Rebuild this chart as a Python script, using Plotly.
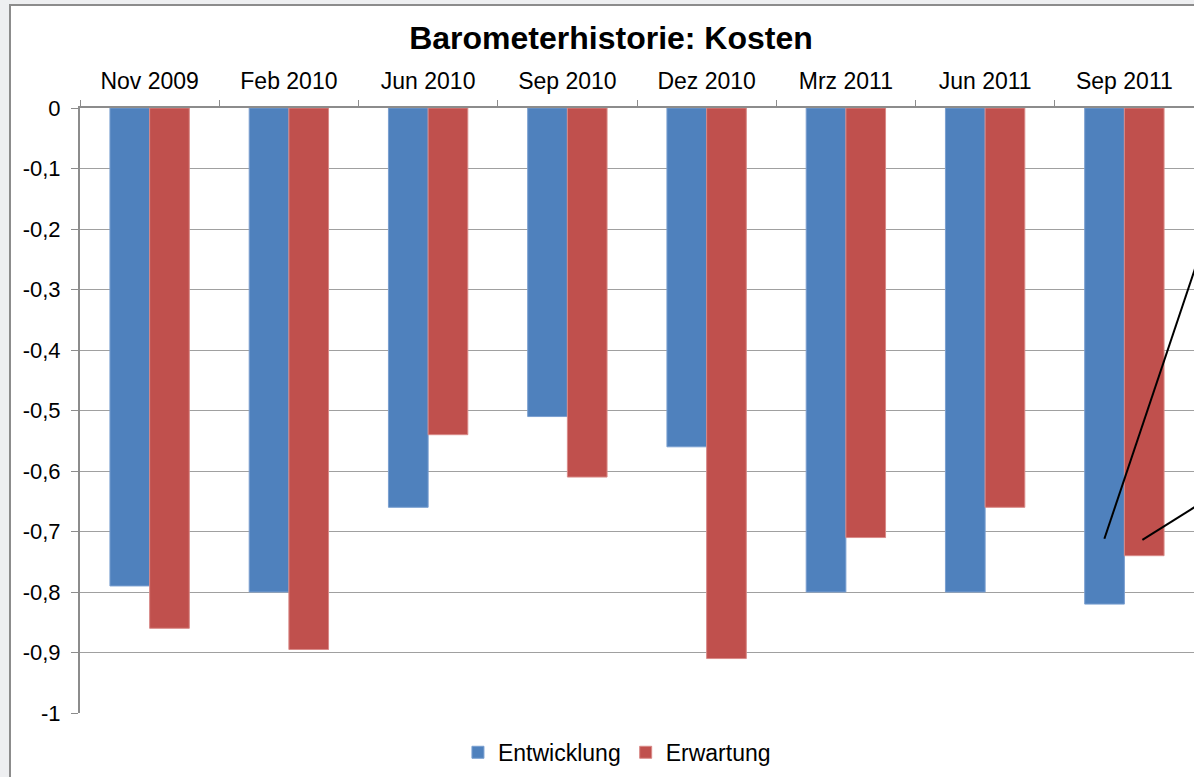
# -*- coding: utf-8 -*-
"""Barometerhistorie: Kosten - gruppierte Balken (Entwicklung / Erwartung)"""

import plotly.graph_objects as go

# Daten
kategorien = ['Nov 2009', 'Feb 2010', 'Jun 2010', 'Sep 2010',
              'Dez 2010', 'Mrz 2011', 'Jun 2011', 'Sep 2011']
entwicklung = [-0.79, -0.80, -0.66, -0.51, -0.56, -0.80, -0.80, -0.82]
erwartung = [-0.86, -0.895, -0.54, -0.61, -0.91, -0.71, -0.66, -0.74]

y_ticks = [0, -0.1, -0.2, -0.3, -0.4, -0.5, -0.6, -0.7, -0.8, -0.9, -1]
y_labels = ['0', '-0,1', '-0,2', '-0,3', '-0,4', '-0,5',
            '-0,6', '-0,7', '-0,8', '-0,9', '-1']

# Hinweislinien (abgeschnittene Beschriftung rechts)
callout_kategorie = 'Sep 2011'
callout_werte = [-0.712, -0.714]

FONT = 'Liberation Sans, Arial, sans-serif'
BLAU = '#4f81bd'
ROT = '#c0504d'

fig = go.Figure()

fig.add_trace(go.Bar(
    x=kategorien, y=entwicklung, name='Entwicklung',
    marker=dict(color=BLAU, line=dict(color='#7a9fd0', width=1))
))
fig.add_trace(go.Bar(
    x=kategorien, y=erwartung, name='Erwartung',
    marker=dict(color=ROT, line=dict(color='#d98a88', width=1))
))

# Linien zu den Beschriftungen (Pixel-Versatz vom Balken aus)
idx = kategorien.index(callout_kategorie)
fig.add_shape(type='line', xref='x', yref='y',
              xsizemode='pixel', xanchor=idx, x0=-20, x1=-20 + 110,
              ysizemode='pixel', yanchor=callout_werte[0], y0=0, y1=328,
              line=dict(color='black', width=2))
fig.add_shape(type='line', xref='x', yref='y',
              xsizemode='pixel', xanchor=idx, x0=18, x1=18 + 70,
              ysizemode='pixel', yanchor=callout_werte[1], y0=0, y1=44,
              line=dict(color='black', width=2))

# Rahmen des Diagrammbereichs
fig.add_shape(type='rect', xref='paper', yref='paper',
              x0=-70 / 1114, x1=1.2, y0=-0.3, y1=(108 - 5) / 605 + 1,
              line=dict(color='#8c8c8c', width=2), fillcolor='white',
              layer='below')

fig.update_layout(
    width=1194, height=777,
    margin=dict(l=80, r=0, t=108, b=64),
    paper_bgcolor='#eeeff1',
    plot_bgcolor='rgba(0,0,0,0)',
    barmode='group',
    bargap=0.43,
    bargroupgap=0,
    font=dict(family=FONT, size=22, color='black'),
    title=dict(text='<b>Barometerhistorie: Kosten</b>',
               font=dict(family=FONT, size=32, color='black'),
               x=611 / 1194, xanchor='center', xref='container',
               y=1 - 38 / 777, yanchor='middle', yref='container'),
    legend=dict(orientation='h', x=0.482, xanchor='center',
                y=-0.065, yanchor='middle',
                font=dict(family=FONT, size=23, color='black'),
                itemwidth=30, traceorder='normal', bgcolor='rgba(0,0,0,0)'),
    showlegend=True
)

fig.update_xaxes(
    side='top', type='category', tickson='boundaries',
    ticks='outside', ticklen=6, tickcolor='#8c8c8c',
    showline=True, linecolor='#8c8c8c', linewidth=2,
    showgrid=False, range=[-0.5, 7.5], ticklabelstandoff=8,
    tickfont=dict(family=FONT, size=23, color='black')
)
fig.update_yaxes(
    range=[-1, 0], tickvals=y_ticks, ticktext=y_labels,
    ticks='outside', ticklen=7, tickcolor='#8c8c8c',
    showline=True, linecolor='#8c8c8c', linewidth=2,
    showgrid=True, gridcolor='#a0a0a0', gridwidth=1,
    zeroline=False, ticklabelstandoff=6,
    tickfont=dict(family=FONT, size=22, color='black')
)

# Seitenrand entfernen, damit die Grafik exakt im Fenster sitzt
fig.write_html('out.html', config={'displayModeBar': False},
               post_script="document.body.style.margin='0';")
